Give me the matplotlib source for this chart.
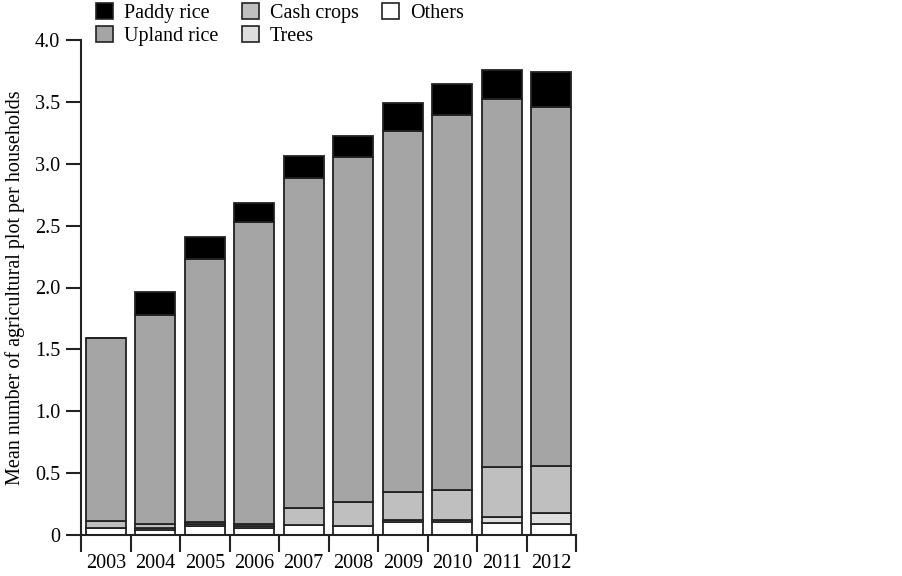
import matplotlib
matplotlib.use("Agg")
import matplotlib.pyplot as plt
from matplotlib.patches import Patch
import numpy as np

years = ["2003", "2004", "2005", "2006", "2007", "2008", "2009", "2010", "2011", "2012"]
others = [0.055, 0.040, 0.070, 0.060, 0.080, 0.075, 0.108, 0.102, 0.097, 0.089]
trees = [0.0, 0.014, 0.016, 0.015, 0.0, 0.0, 0.016, 0.019, 0.048, 0.086]
cash_crops = [0.061, 0.032, 0.022, 0.011, 0.142, 0.195, 0.226, 0.245, 0.407, 0.385]
upland_rice = [1.473, 1.692, 2.120, 2.441, 2.663, 2.782, 2.915, 3.025, 2.969, 2.896]
paddy_rice = [0.0, 0.183, 0.178, 0.153, 0.175, 0.170, 0.229, 0.251, 0.237, 0.283]

series = [
    ("Others", others, "#ffffff"),
    ("Trees", trees, "#dedede"),
    ("Cash crops", cash_crops, "#bfbfbf"),
    ("Upland rice", upland_rice, "#a5a5a5"),
    ("Paddy rice", paddy_rice, "#000000"),
]

plt.rcParams['font.family'] = ['Liberation Serif', 'DejaVu Serif']

fig = plt.figure(figsize=(9.03, 5.76), dpi=100)
ax = fig.add_axes([81/903, 1-535/576, (576-81)/903, (535-40)/576])

x = np.arange(len(years))
bottom = np.zeros(len(years))
for name, vals, col in series:
    v = np.array(vals)
    ax.bar(x, v, width=0.8, bottom=bottom, color=col, edgecolor="#222222", linewidth=1.3)
    bottom += v

ax.set_xlim(-0.5, len(years) - 0.5)
ax.set_ylim(0, 4.0)
ax.set_xticks(np.arange(-0.5, len(years), 1.0))
ax.set_xticklabels([])
ax.set_xticks(x, minor=True)
ax.set_xticklabels(years, minor=True)
ax.tick_params(axis='x', which='major', direction='out', length=12, width=1.5, color="#222222")
ax.tick_params(axis='x', which='minor', length=0, labelsize=14.5, pad=14)
ax.set_yticks([0, 0.5, 1.0, 1.5, 2.0, 2.5, 3.0, 3.5, 4.0])
ax.set_yticklabels(["0", "0.5", "1.0", "1.5", "2.0", "2.5", "3.0", "3.5", "4.0"])
ax.tick_params(axis='y', direction='out', length=11, width=1.5, color="#222222", labelsize=14.5, pad=4)
for s in ["top", "right"]:
    ax.spines[s].set_visible(False)
for s in ["left", "bottom"]:
    ax.spines[s].set_linewidth(1.5)
    ax.spines[s].set_color("#222222")
ax.set_ylabel("Mean number of agricultural plot per households", fontsize=14.5, labelpad=7)

order = ["Paddy rice", "Upland rice", "Cash crops", "Trees", "Others"]
cmap = {n: c for n, _, c in series}
handles = [Patch(facecolor=cmap[n], edgecolor="#222222", linewidth=1.2, label=n) for n in order]
fig.legend(handles=handles, loc="upper left", bbox_to_anchor=(88/903, 1.0 + 5/576), ncol=3,
           frameon=False, fontsize=14.5, handlelength=0.85, handleheight=0.85,
           handletextpad=0.55, columnspacing=1.15, labelspacing=0.15, borderaxespad=0)

fig.savefig("out.png", dpi=100)
